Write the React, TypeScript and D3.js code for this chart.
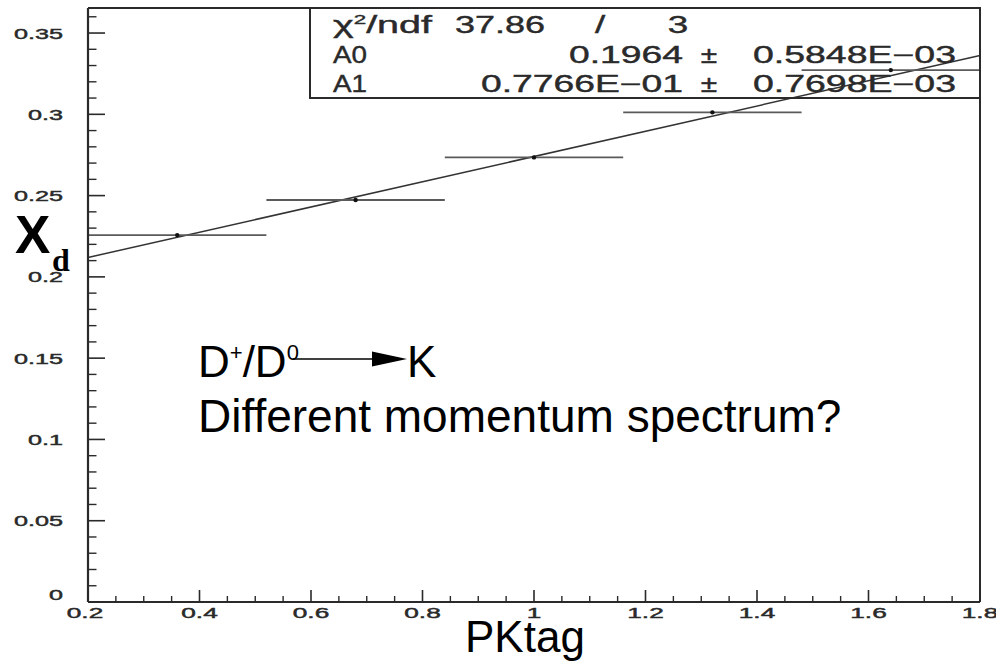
import React from "react";
import * as d3 from "d3";

// ---- data ----
const binLow = [0.2, 0.52, 0.84, 1.16, 1.48];
const binHigh = [0.52, 0.84, 1.16, 1.48, 1.8];
const pkCenter = [0.36, 0.68, 1.0, 1.32, 1.64];
const xdValues = [0.2257, 0.2473, 0.2735, 0.3012, 0.3272];
const fitA0 = 0.1964;
const fitA1 = 0.07766;
const yTickValues = [0, 0.05, 0.1, 0.15, 0.2, 0.25, 0.3, 0.35];
const yTickLabels = ["0", "0.05", "0.1", "0.15", "0.2", "0.25", "0.3", "0.35"];
const xTickValues = [0.2, 0.4, 0.6, 0.8, 1.0, 1.2, 1.4, 1.6, 1.8];
const xTickLabels = ["0.2", "0.4", "0.6", "0.8", "1", "1.2", "1.4", "1.6", "1.8"];
const statLabels = ["A0", "A1"];
const statValues = ["0.1964", "0.7766E\u221201"];
const statErrors = ["0.5848E\u221203", "0.7698E\u221203"];
const chi2Text = "37.86";
const ndfText = "3";

const W = 996;
const H = 661;
const PAW_FONT = "'Liberation Sans', Arial, Helvetica, sans-serif";
const INK = "#2a2a2a";

function PawText(props: any) {
  const { x, y, anchor = "start", size = 14, sx = 1.78, children, ...rest } = props;
  return (
    <text
      transform={`translate(${x},${y}) scale(${sx},1)`}
      textAnchor={anchor}
      fontSize={size}
      fontFamily={PAW_FONT}
      fill={INK}
      stroke={INK}
      strokeWidth={0.45}
      {...rest}
    >
      {children}
    </text>
  );
}

function FitText(props: any) {
  const { x, y, len, children } = props;
  return (
    <text
      x={x}
      y={y}
      fontSize={23}
      fontFamily={PAW_FONT}
      fill={INK}
      stroke={INK}
      strokeWidth={0.4}
      textLength={len}
      lengthAdjust="spacingAndGlyphs"
    >
      {children}
    </text>
  );
}

export default function App() {
  const x = d3.scaleLinear().domain([0.2, 1.8]).range([88, 980]);
  const y = d3.scaleLinear().domain([0, 0.3654]).range([602, 8]);
  const [x0, x1] = x.range();
  const [yb, yt] = y.range();

  const yMinor = d3.range(0, 0.3655, 0.01).filter(
    (v) => !yTickValues.some((m) => Math.abs(m - v) < 1e-6)
  );
  const xMinor = d3.range(0.2, 1.8001, 0.05).filter(
    (v) => !xTickValues.some((m) => Math.abs(m - v) < 1e-6)
  );

  const fitLine = d3
    .line<number>()
    .x((d) => x(d))
    .y((d) => y(fitA0 + fitA1 * d));
  const fitPath = fitLine(x.domain()) || "";

  const rowY = [33, 63, 92];

  return (
    <div style={{ position: "absolute", left: 0, top: 0, background: "#fff" }}>
      <svg width={W} height={H} style={{ display: "block", overflow: "hidden" }}>
        <rect x={0} y={0} width={W} height={H} fill="#fff" />

        {/* fit line */}
        <path d={fitPath} fill="none" stroke="#333" strokeWidth={1.5} />

        {/* horizontal error bars and points */}
        {xdValues.map((v, i) => (
          <g key={i}>
            <line
              x1={x(binLow[i])}
              x2={x(binHigh[i])}
              y1={y(v)}
              y2={y(v)}
              stroke="#5a5a5a"
              strokeWidth={1.8}
            />
            <circle cx={x(pkCenter[i])} cy={y(v)} r={2.2} fill="#111" />
          </g>
        ))}

        {/* stats box */}
        <rect x={310} y={8} width={x1 - 310} height={90} fill="none" stroke={INK} strokeWidth={2} />
        <text
          x={333}
          y={rowY[0]}
          fontSize={23}
          fontFamily={PAW_FONT}
          fill={INK}
          stroke={INK}
          strokeWidth={0.4}
          textLength={99}
          lengthAdjust="spacingAndGlyphs"
        >
          {"\u03c7"}
          <tspan dy={-9} fontSize={13}>2</tspan>
          <tspan dy={9}>/ndf</tspan>
        </text>
        <FitText x={455} y={rowY[0]} len={90}>{chi2Text}</FitText>
        <PawText x={600} y={rowY[0]} anchor="middle" size={23} sx={1.6} strokeWidth={0.4}>/</PawText>
        <PawText x={678} y={rowY[0]} anchor="middle" size={23} sx={1.6} strokeWidth={0.4}>{ndfText}</PawText>
        {statLabels.map((lab, i) => (
          <g key={lab}>
            <FitText x={333} y={rowY[i + 1]} len={34}>{lab}</FitText>
            <PawText x={683} y={rowY[i + 1]} anchor="end" size={23} sx={1.62} strokeWidth={0.4}>
              {statValues[i]}
            </PawText>
            <PawText x={709} y={rowY[i + 1]} anchor="middle" size={23} sx={1.3} strokeWidth={0.4}>
              {"\u00b1"}
            </PawText>
            <FitText x={753} y={rowY[i + 1]} len={203}>{statErrors[i]}</FitText>
          </g>
        ))}

        {/* frame */}
        <line x1={x0} x2={310} y1={yt} y2={yt} stroke={INK} strokeWidth={2} />
        <line x1={x0} x2={x0} y1={yt} y2={yb} stroke={INK} strokeWidth={2.2} />
        <line x1={x0} x2={x1} y1={yb} y2={yb} stroke={INK} strokeWidth={2.2} />
        <line x1={x1} x2={x1} y1={yt} y2={yb} stroke={INK} strokeWidth={2} />

        {/* y ticks */}
        {yTickValues.map((v) => (
          <line key={"ym" + v} x1={x0} x2={x0 + 17} y1={y(v)} y2={y(v)} stroke={INK} strokeWidth={1.6} />
        ))}
        {yMinor.map((v) => (
          <line key={"yn" + v} x1={x0} x2={x0 + 8.5} y1={y(v)} y2={y(v)} stroke={INK} strokeWidth={1.4} />
        ))}
        {yTickValues.map((v, i) => (
          <PawText key={"yl" + v} x={63} y={i === 0 ? 600 : y(v) + 5.5} anchor="end" size={15} sx={1.68}>
            {yTickLabels[i]}
          </PawText>
        ))}

        {/* x ticks */}
        {xTickValues.map((v) => (
          <line key={"xm" + v} x1={x(v)} x2={x(v)} y1={yb} y2={yb - 12} stroke={INK} strokeWidth={1.6} />
        ))}
        {xMinor.map((v) => (
          <line key={"xn" + v} x1={x(v)} x2={x(v)} y1={yb} y2={yb - 6} stroke={INK} strokeWidth={1.4} />
        ))}
        {xTickValues.map((v, i) => (
          <PawText key={"xl" + v} x={i === 0 ? x(v) - 3 : x(v)} y={617.5} anchor="middle" size={15} sx={1.75}>
            {xTickLabels[i]}
          </PawText>
        ))}

        {/* axis titles */}
        <text x={15} y={253} fontSize={53} fontWeight="bold" fontFamily="'Liberation Sans', Arial, sans-serif" fill="#000">
          X
        </text>
        <text x={52} y={271} fontSize={32} fontWeight="bold" fontFamily="'Liberation Serif', 'Times New Roman', serif" fill="#000">
          d
        </text>
        <text x={465} y={652} fontSize={44} fontFamily="'Liberation Sans', Arial, sans-serif" fill="#000">
          PKtag
        </text>

        {/* annotation */}
        <text x={198} y={377} fontSize={44} fontFamily="'Liberation Sans', Arial, sans-serif" fill="#000">
          D
          <tspan dy={-17} fontSize={22}>+</tspan>
          <tspan dy={17} fontSize={44}>/D</tspan>
          <tspan dy={-17} fontSize={22}>0</tspan>
        </text>
        <line x1={293} x2={374} y1={359} y2={359} stroke="#000" strokeWidth={1.6} />
        <polygon points="372,351.5 407,359 372,366.5" fill="#000" />
        <text x={407} y={377} fontSize={44} fontFamily="'Liberation Sans', Arial, sans-serif" fill="#000">
          K
        </text>
        <text x={198} y={432} fontSize={46} fontFamily="'Liberation Sans', Arial, sans-serif" fill="#000">
          Different momentum spectrum?
        </text>
      </svg>
    </div>
  );
}
